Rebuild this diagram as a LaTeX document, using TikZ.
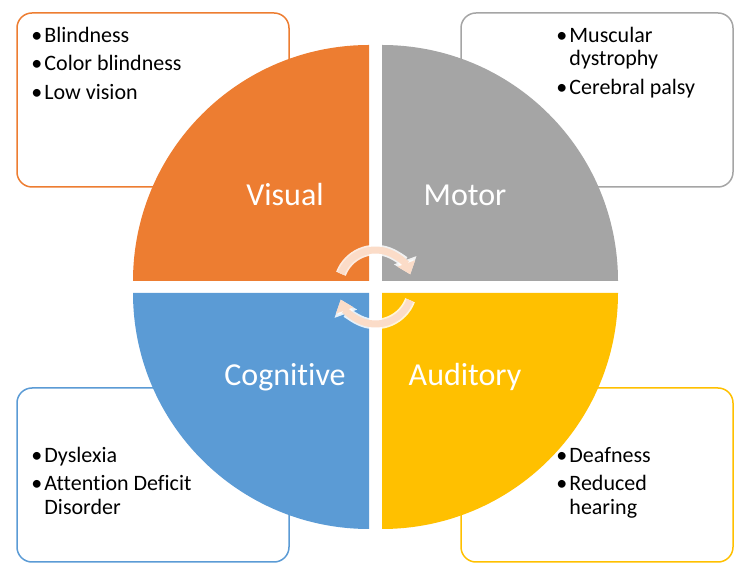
\documentclass[tikz,border=0pt]{standalone}
\usepackage{fontspec}
\setmainfont{Carlito}[Ligatures=NoCommon]
\usetikzlibrary{arrows.meta,calc}
\definecolor{visorange}{HTML}{ED7D31}
\definecolor{motorgray}{HTML}{A5A5A5}
\definecolor{cogblue}{HTML}{5B9BD5}
\definecolor{audyellow}{HTML}{FFC000}
\definecolor{cyclepeach}{HTML}{FBDCC8}

\newcommand{\bitem}[1]{\hbox{\makebox[13pt][l]{\textbullet}#1}}% bullet line
\newcommand{\bmore}[1]{\hbox{\hspace*{13pt}#1}}% wrapped line
\newcommand{\bgap}{\vskip 5pt}

\begin{document}
\begin{tikzpicture}[x=1pt,y=1pt,
	infobox/.style={rectangle,rounded corners=15pt,line width=1.5pt,fill=white,
		minimum width=272pt,minimum height=174pt,inner sep=0pt},
	listtext/.style={anchor=base west,inner sep=0pt,font=\fontsize{22}{23.5}\selectfont},
	quadlabel/.style={anchor=base,inner sep=0pt,text=white,font=\fontsize{32}{36}\selectfont}]
		\useasboundingbox (0,0) rectangle (750,581);
		\coordinate (Hub) at (375.5,294);

		% boxes behind the circle
		\node[infobox,draw=visorange] (visbox) at (153,481) {};
		\node[infobox,draw=motorgray] (motbox) at (597,481) {};
		\node[infobox,draw=cogblue]   (cogbox) at (153,106) {};
		\node[infobox,draw=audyellow] (audbox) at (597,106) {};

		\node[listtext] (vislist) at ([shift={(15,-30)}]visbox.north west)
			{\vtop{\bitem{Blindness}\bgap\bitem{Color blindness}\bgap\bitem{Low vision}}};
		\node[listtext] (motlist) at ([shift={(96,-30)}]motbox.north west)
			{\vtop{\bitem{Muscular}\bmore{dystrophy}\bgap\bitem{Cerebral palsy}}};
		\node[listtext] (coglist) at ([shift={(15,-75)}]cogbox.north west)
			{\vtop{\bitem{Dyslexia}\bgap\bitem{Attention Deficit}\bmore{Disorder}}};
		\node[listtext] (audlist) at ([shift={(96,-75)}]audbox.north west)
			{\vtop{\bitem{Deafness}\bgap\bitem{Reduced}\bmore{hearing}}};

		\foreach \ang/\col/\dx/\dy in {90/visorange/-6.5/6, 0/motorgray/6.5/6,
			180/cogblue/-6.5/-6, 270/audyellow/6.5/-6}{% one quarter each
			\fill[\col] ($(Hub)+(\dx,\dy)$) -- ++(\ang:236)
				arc[start angle=\ang,end angle=\ang+90,radius=236] -- cycle;
		}

		\node[quadlabel] (visual)    at (285,375) {Visual};
		\node[quadlabel] (motor)     at (465,375) {Motor};
		\node[quadlabel] (cognitive) at (285,195) {Cognitive};
		\node[quadlabel] (auditory)  at (465,195) {Auditory};

		% cycle arrows in the middle
		\foreach \s/\e in {159/20, -21/-160}{%
			\draw[white,opacity=.85,line width=10.5pt,-{Triangle[width=23pt,length=15pt]}]
				([shift={(\s:37)}]Hub) arc[start angle=\s,end angle=\e,radius=37];
			\draw[cyclepeach,line width=7pt,-{Triangle[width=18pt,length=11.5pt]}]
				([shift={(\s:37)}]Hub) arc[start angle=\s,end angle=\e,radius=37];
		}
	  \end{tikzpicture}
\end{document}
